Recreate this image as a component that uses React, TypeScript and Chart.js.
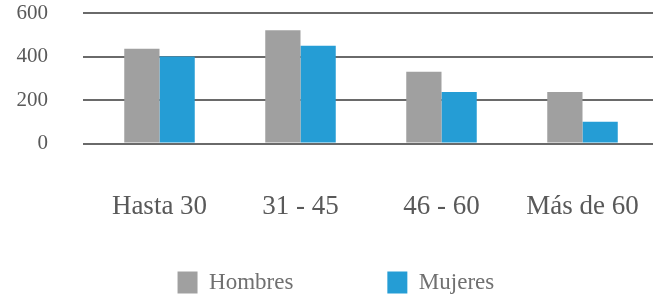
import React, { useEffect, useRef } from "react";
import { Chart, registerables } from "chart.js";

Chart.register(...registerables);

const categories = ["Hasta 30", "31 - 45", "46 - 60", "Más de 60"];
const hombres = [436, 521, 330, 237];
const mujeres = [400, 449, 237, 100];
const yMax = 600;
const yStep = 200;
const seriesNames = ["Hombres", "Mujeres"];

const FONT = "'Liberation Serif', 'DejaVu Serif', serif";
const colors = ["#a0a0a0", "#259dd5"];

const legendShift = {
  id: "legendShift",
  afterLayout(chart: any) {
    const lg = chart.legend;
    if (!lg) return;
    lg.left += 18;
    lg.right += 18;
    lg.top += 7;
    lg.bottom += 7;
  },
};

export default function App() {
  const ref = useRef<HTMLCanvasElement | null>(null);
  useEffect(() => {
    if (!ref.current) return;
    const chart = new Chart(ref.current, {
      type: "bar",
      data: {
        labels: categories,
        datasets: seriesNames.map((name, i) => ({
          label: name,
          data: i === 0 ? hombres : mujeres,
          backgroundColor: colors[i],
          categoryPercentage: 0.5,
          barPercentage: 1,
        })),
      },
      plugins: [legendShift],
      options: {
        animation: false,
        responsive: false,
        maintainAspectRatio: false,
        layout: { padding: { left: 0, right: 4, top: 13, bottom: 0 } },
        plugins: {
          tooltip: { enabled: false },
          legend: {
            position: "bottom",
            labels: {
              boxWidth: 20,
              boxHeight: 22,
              padding: 2,
              color: "#707070",
              font: { family: FONT, size: 23 },
              generateLabels: (c: any) => {
                const base = Chart.defaults.plugins.legend.labels.generateLabels(c);
                return base.map((l: any, i: number) => ({
                  ...l,
                  lineWidth: 0,
                  text: l.text + "\u00a0".repeat(i === 0 ? 16 : 3),
                }));
              },
            },
          },
        },
        scales: {
          x: {
            afterFit: (s: any) => {
              s.paddingLeft = 0;
              s.paddingRight = 0;
            },
            grid: { display: false },
            border: { display: false },
            ticks: {
              color: "#595959",
              font: { family: FONT, size: 27 },
              padding: 39,
              maxRotation: 0,
              autoSkip: false,
            },
          },
          y: {
            min: 0,
            max: yMax,
            afterFit: (s: any) => {
              s.width = 89;
              s.paddingTop = 0;
              s.paddingBottom = 0;
            },
            grid: {
              color: "#6a6a6a",
              lineWidth: 2,
              drawTicks: true,
              tickLength: 6,
            },
            border: { display: false },
            ticks: {
              stepSize: yStep,
              autoSkip: false,
              color: "#595959",
              font: { family: FONT, size: 21 },
              padding: 35,
            },
          },
        },
      },
    });
    return () => chart.destroy();
  }, []);
  return (
    <div style={{ position: "fixed", left: 0, top: 0, width: 657, height: 297, background: "#fff" }}>
      <canvas ref={ref} width={657} height={297} style={{ width: 657, height: 297 }} />
    </div>
  );
}
